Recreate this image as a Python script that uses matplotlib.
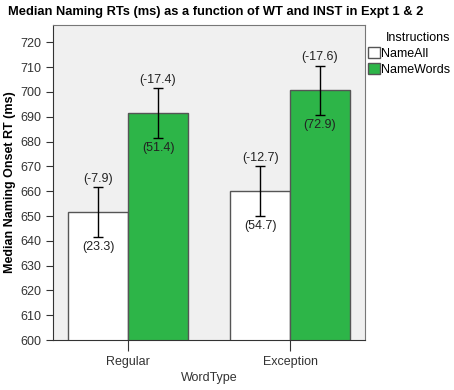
import matplotlib.pyplot as plt
import numpy as np

plt.rcParams["font.family"] = ["Liberation Sans", "DejaVu Sans"]

word_types = ["Regular", "Exception"]
instructions = ["NameAll", "NameWords"]
medians = {"NameAll": [651.7, 660.0], "NameWords": [691.4, 700.6]}
ci_half = {"NameAll": [10.0, 10.0], "NameWords": [10.0, 10.0]}
top_labels = {"NameAll": ["(-7.9)", "(-12.7)"], "NameWords": ["(-17.4)", "(-17.6)"]}
bottom_labels = {"NameAll": ["(23.3)", "(54.7)"], "NameWords": ["(51.4)", "(72.9)"]}
colors = {"NameAll": "white", "NameWords": "#2db548"}

fig = plt.figure(figsize=(4.54, 3.9), dpi=100)
ax = fig.add_axes([0.117, 0.128, 0.687, 0.808])
ax.set_facecolor("#f0f0f0")

x = np.arange(len(word_types))
width = 0.37

for i, inst in enumerate(instructions):
    pos = x + (i - 0.5) * width
    ax.bar(pos, medians[inst], width, bottom=0, color=colors[inst],
           edgecolor="#555555", linewidth=1, label=inst, zorder=2)
    ax.errorbar(pos, medians[inst], yerr=ci_half[inst], fmt="none",
                ecolor="black", elinewidth=1, capsize=3.5, capthick=1, zorder=3)
    for p, m, e, tl, bl in zip(pos, medians[inst], ci_half[inst],
                               top_labels[inst], bottom_labels[inst]):
        ax.text(p, m + e + 1.0, tl, ha="center", va="bottom",
                fontsize=9, color="#222222", zorder=4)
        ax.text(p, m - e - 1.6, bl, ha="center", va="top",
                fontsize=9, color="#222222", zorder=4)

ax.set_ylim(600, 727)
ax.set_xlim(-0.463, 1.463)
ax.set_yticks(np.arange(600, 721, 10))
ax.set_xticks(x)
ax.set_xticklabels(word_types)
ax.tick_params(axis="y", direction="out", length=5, labelsize=9,
               labelcolor="#333333", color="#333333")
ax.tick_params(axis="x", direction="out", length=8, labelsize=9,
               labelcolor="#333333", color="#333333")
for s in ax.spines.values():
    s.set_color("#777777")
ax.spines["left"].set_color("#333333")
ax.spines["bottom"].set_color("#333333")

ax.set_xlabel("WordType", fontsize=9, color="#333333", labelpad=3)
ax.set_ylabel("Median Naming Onset RT (ms)", fontsize=9, fontweight="bold", labelpad=3)
fig.suptitle("Median Naming RTs (ms) as a function of WT and INST in Expt 1 & 2",
             fontsize=9.3, fontweight="bold", x=0.475, y=0.985)

leg = ax.legend(title="Instructions", loc="upper left", bbox_to_anchor=(0.995, 0.995),
                frameon=False, fontsize=9, title_fontsize=9,
                handlelength=0.9, handleheight=1.0, handletextpad=0.1,
                labelspacing=0.25, borderaxespad=0)
leg._legend_box.align = "right"

fig.savefig("out.png", dpi=100)
